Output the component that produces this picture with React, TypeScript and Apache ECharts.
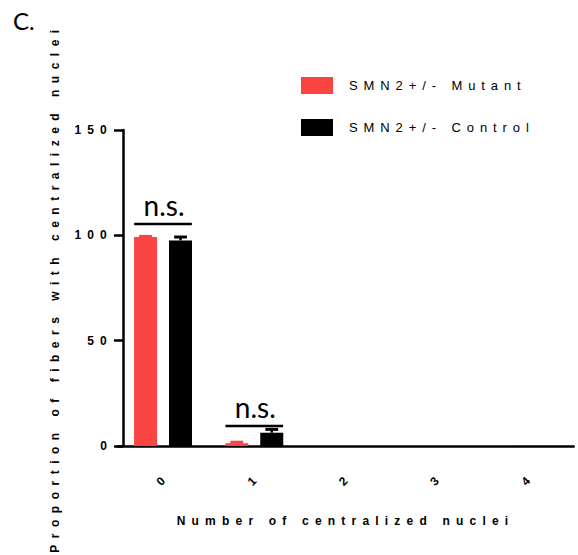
import React, { useEffect, useRef } from "react";
import * as echarts from "echarts";

const categories = ["0", "1", "2", "3", "4"];
const mutantValues = [99.2, 1.3, 0, 0, 0];
const mutantErrors = [0.3, 0.5, 0, 0, 0];
const controlValues = [97.6, 6.3, 0, 0, 0];
const controlErrors = [1.6, 1.6, 0, 0, 0];
const nsCategories = [0, 1];
const nsLevels = [105.4, 9.5];
const seriesNames = ["SMN2+/- Mutant", "SMN2+/- Control"];
const yTicks = { min: 0, max: 150, interval: 50 };
const yTitle = "Proportion of fibers with centralized nuclei";
const xTitle = "Number of centralized nuclei";

const RED = "#FA4343";
const BLACK = "#000000";
const BAR_OFFSET_RATIO = 0.192;

function errorSeries(values: number[], errors: number[], color: string, side: number) {
  return {
    type: "custom",
    silent: true,
    z: 5,
    data: values.map((v, i) => [i, v, errors[i]]),
    renderItem: (_params: any, api: any) => {
      const cat = api.value(0);
      const val = api.value(1);
      const err = api.value(2);
      if (!err) return null;
      const base = api.coord([cat, val]);
      const top = api.coord([cat, val + err]);
      const band = api.size([1, 0])[0];
      const x = base[0] + side * band * BAR_OFFSET_RATIO;
      const half = band * 0.07;
      return {
        type: "group",
        children: [
          { type: "line", shape: { x1: x, y1: base[1], x2: x, y2: top[1] }, style: { stroke: color, lineWidth: 2.5 } },
          { type: "line", shape: { x1: x - half, y1: top[1], x2: x + half, y2: top[1] }, style: { stroke: color, lineWidth: 3 } },
        ],
      };
    },
  };
}

export default function App() {
  const ref = useRef<HTMLDivElement>(null);
  useEffect(() => {
    if (!ref.current) return;
    const chart = echarts.init(ref.current, null, { renderer: "svg" });
    const option: any = {
      animation: false,
      backgroundColor: "#ffffff",
      grid: { left: 117.4, top: 130, width: 456.25, bottom: 109 },
      legend: {
        data: seriesNames,
        orient: "vertical",
        left: 296,
        top: 72,
        itemWidth: 32,
        itemHeight: 17,
        itemGap: 25,
        icon: "rect",
        textStyle: { fontFamily: "Liberation Sans", fontSize: 13, color: "#000", padding: [6, 0, 0, 11] },
      },
      xAxis: {
        type: "category",
        data: categories,
        name: xTitle,
        nameLocation: "middle",
        nameGap: 69,
        nameTextStyle: { fontFamily: "Liberation Sans", fontWeight: "bold", fontSize: 12, color: "#000" },
        axisLine: { lineStyle: { color: "#000", width: 2.5 } },
        axisTick: { alignWithLabel: true, length: 8, lineStyle: { color: "#000", width: 2.5 } },
        axisLabel: {
          rotate: 45,
          align: "center",
          verticalAlign: "middle",
          margin: 33,
          fontFamily: "Liberation Sans",
          fontWeight: "bold",
          fontSize: 12,
          color: "#000",
        },
        splitLine: { show: false },
      },
      yAxis: {
        type: "value",
        min: yTicks.min,
        max: yTicks.max,
        interval: yTicks.interval,
        offset: -5.6,
        name: yTitle,
        nameLocation: "middle",
        nameGap: 62,
        nameTextStyle: { fontFamily: "Liberation Sans", fontWeight: "bold", fontSize: 12, color: "#000" },
        axisLine: { show: true, lineStyle: { color: "#000", width: 2.5 } },
        axisTick: { show: true, length: 9, lineStyle: { color: "#000", width: 2.5 } },
        axisLabel: { margin: 10, fontFamily: "Liberation Sans", fontWeight: "bold", fontSize: 12, color: "#000" },
        splitLine: { show: false },
      },
      graphic: [
        {
          type: "text",
          left: 13,
          top: 8,
          style: { text: "C.", font: "24px Lato", fill: "#000" },
        },
      ],
      series: [
        {
          name: seriesNames[0],
          type: "bar",
          data: mutantValues,
          barWidth: 23,
          barGap: "52%",
          itemStyle: { color: RED },
        },
        {
          name: seriesNames[1],
          type: "bar",
          data: controlValues,
          barWidth: 23,
          itemStyle: { color: BLACK },
        },
        errorSeries(mutantValues, mutantErrors, RED, -1),
        errorSeries(controlValues, controlErrors, BLACK, 1),
        {
          type: "custom",
          silent: true,
          z: 6,
          data: nsCategories.map((c, i) => [c, nsLevels[i]]),
          renderItem: (_params: any, api: any) => {
            const p = api.coord([api.value(0), api.value(1)]);
            const band = api.size([1, 0])[0];
            const half = band * 0.316;
            return {
              type: "group",
              children: [
                { type: "line", shape: { x1: p[0] - half, y1: p[1], x2: p[0] + half, y2: p[1] }, style: { stroke: "#000", lineWidth: 2.5 } },
                {
                  type: "text",
                  x: p[0] + 1,
                  y: p[1] - 5,
                  style: { text: "n.s.", font: "28px Lato", fill: "#000", align: "center", verticalAlign: "bottom" },
                },
              ],
            };
          },
        },
      ],
    };
    chart.setOption(option);
    const spacing = () => {
      const texts = ref.current?.querySelectorAll("text") || [];
      texts.forEach((t: any) => {
        const s = (t.textContent || "").trim();
        if (s === "n.s." || s === "C.") t.setAttribute("letter-spacing", "0");
        else if (s === yTitle) t.setAttribute("letter-spacing", "6.5");
        else if (seriesNames.includes(s)) t.setAttribute("letter-spacing", "5.9");
        else t.setAttribute("letter-spacing", "6.2");
      });
    };
    spacing();
    chart.on("finished", spacing);
    return () => chart.dispose();
  }, []);
  return <div ref={ref} style={{ position: "fixed", left: 0, top: 0, width: 578, height: 555 }} />;
}
